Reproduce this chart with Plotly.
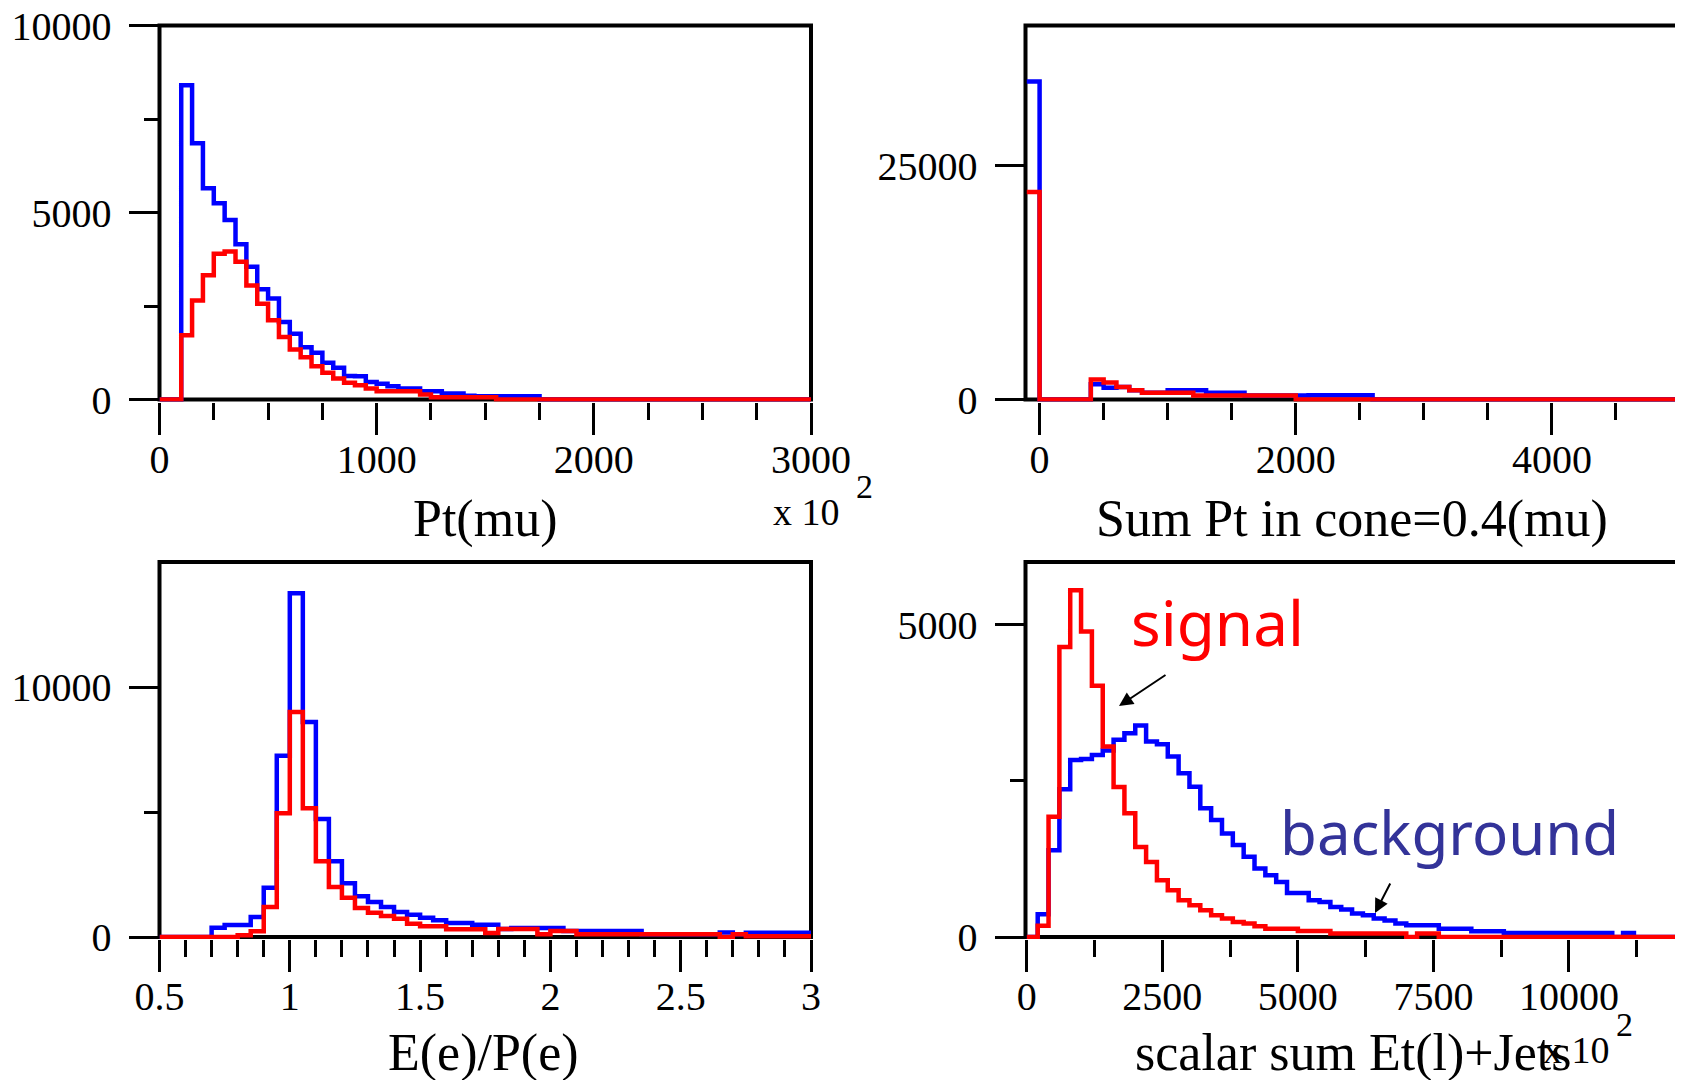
import numpy as np
import plotly.graph_objects as go

W, H = 1683, 1080
OFFSET = 8  # the page body adds an 8px margin around the figure
BLUE = '#0000ff'
RED = '#ff0000'
SERIF = 'Liberation Serif, Times New Roman, serif'
HAND = 'Comic Sans MS, Noto Sans, sans-serif'

# ---- data (bin contents, counts) ----
# Pt(mu), 50-wide bins from 0 to 3000
pt_edges = np.arange(0, 3001, 50)
pt_background = [0, 0, 8400, 6850, 5650, 5250, 4800, 4150, 3550, 2950,
                 2700, 2070, 1760, 1400, 1250, 980, 850, 630, 620, 470,
                 420, 355, 295, 295, 222, 222, 160, 160, 100, 90,
                 90, 88, 88, 88, 88] + [0] * 25
pt_signal = [0, 0, 1720, 2650, 3320, 3900, 3960, 3680, 3050, 2560,
             2120, 1670, 1340, 1130, 890, 712, 560, 445, 380, 294,
             222, 222, 222, 222, 134, 60, 60, 60, 60, 60,
             60] + [0] * 29

# Sum Pt in cone=0.4(mu), 100-wide bins from -100 to 5000
cone_edges = np.arange(-100, 5001, 100)
cone_background = [34000, 0, 0, 0, 0, 1640, 1250, 1350, 995, 710,
                   710, 1000, 1000, 1000, 710, 710, 710, 427, 427, 427,
                   427, 427, 460, 460, 460, 460, 460] + [0] * 24
cone_signal = [22200, 0, 0, 0, 0, 2140, 1820, 1350, 995, 710,
               710, 710, 710, 427, 427, 427, 427, 427, 427, 427,
               427] + [0] * 30

# E(e)/P(e), 0.05-wide bins from 0.5 to 3
ep_edges = np.linspace(0.5, 3.0, 51)
ep_background = [0, 0, 0, 0, 370, 480, 480, 800, 1970, 7250,
                 13750, 8600, 4720, 3030, 2150, 1630, 1400, 1200, 1000, 895,
                 775, 668, 560, 560, 495, 495, 320, 360, 360, 360,
                 360, 240, 240, 240, 240, 240, 240, 107, 107, 107,
                 107, 107, 107, 180, 107, 170, 170, 170, 170, 170]
ep_signal = [0, 0, 0, 0, 0, 0, 70, 235, 1200, 4950,
             9000, 5150, 3030, 2000, 1570, 1160, 975, 840, 735, 535,
             427, 427, 307, 307, 307, 160, 320, 320, 320, 107,
             240, 240, 107, 107, 107, 107, 107, 107, 107, 107,
             107, 107, 107, 0, 107, 30, 30, 30, 30, 30]

# scalar sum Et(l)+Jets, 200-wide bins from 0 to 12000
ht_edges = np.arange(0, 12001, 200)
ht_background = [0, 365, 1390, 2365, 2834, 2850, 2914, 2984, 3155, 3262,
                 3385, 3128, 3086, 2887, 2621, 2406, 2060, 1872, 1658, 1471,
                 1283, 1097, 990, 882, 706, 704, 589, 561, 481, 439,
                 375, 348, 295, 265, 215, 187, 187, 187, 134, 134,
                 134, 91, 91, 91, 64, 64, 64, 64, 64, 64,
                 64, 64, 64, 64, 0, 64, 0, 0, 0, 0]
ht_signal = [0, 180, 1925, 4640, 5550, 4890, 4020, 3050, 2400, 1980,
             1440, 1200, 910, 750, 590, 510, 430, 350, 295, 240,
             215, 172, 134, 134, 134, 96, 96, 96, 55, 55,
             55, 55, 55, 55, 55, 0, 55, 55] + [0] * 22

# ---- panel geometry (screen pixels): left, top, right, y=0 line ----
FRAMES = [
    (159.5, 25.5, 811, 399.5),
    (1025.5, 25.5, 1680, 399.5),
    (159.5, 562, 811, 937),
    (1025.5, 562, 1680, 937),
]


def px(x):
    return (x - OFFSET) / W


def py(y):
    return 1 - (y - OFFSET) / H


TICKFONT = dict(family=SERIF, size=40, color='black')

panels = [
    dict(edges=pt_edges, bkg=pt_background, sig=pt_signal,
         xrange=[0, 3000], xticks=[0, 1000, 2000, 3000],
         xminor=[250, 500, 750, 1250, 1500, 1750, 2250, 2500, 2750],
         ymax=10000, yticks=[0, 5000, 10000], yminor=[2500, 7500]),
    dict(edges=cone_edges, bkg=cone_background, sig=cone_signal,
         xrange=[-110, 5000], xticks=[0, 2000, 4000],
         xminor=[500, 1000, 1500, 2500, 3000, 3500, 4500, 5000],
         ymax=40000, yticks=[0, 25000], yminor=[]),
    dict(edges=ep_edges, bkg=ep_background, sig=ep_signal,
         xrange=[0.5, 3.0], xticks=[0.5, 1, 1.5, 2, 2.5, 3],
         xminor=[0.6, 0.7, 0.8, 0.9, 1.1, 1.2, 1.3, 1.4, 1.6, 1.7, 1.8, 1.9,
                 2.1, 2.2, 2.3, 2.4, 2.6, 2.7, 2.8, 2.9],
         ymax=15000, yticks=[0, 10000], yminor=[5000]),
    dict(edges=ht_edges, bkg=ht_background, sig=ht_signal,
         xrange=[-25, 12050], xticks=[0, 2500, 5000, 7500, 10000],
         xminor=[1250, 3750, 6250, 8750, 11250],
         ymax=6000, yticks=[0, 5000], yminor=[2500]),
]

fig = go.Figure()
layout = {}
shapes = []

for i, (p, (left, top, right, zero)) in enumerate(zip(panels, FRAMES), start=1):
    xa = 'x' if i == 1 else f'x{i}'
    ya = 'y' if i == 1 else f'y{i}'
    for vals, color in ((p['bkg'], BLUE), (p['sig'], RED)):
        fig.add_trace(go.Scatter(
            x=list(p['edges']), y=list(vals) + [vals[-1]],
            mode='lines', line=dict(shape='hv', width=4.5, color=color),
            xaxis=xa, yaxis=ya, showlegend=False, hoverinfo='skip',
        ))
    pad = p['ymax'] * 2 / (zero - top)
    layout[f'xaxis{i}'] = dict(
        domain=[px(left), px(right)], range=p['xrange'], anchor=ya,
        automargin=False, ticklabeloverflow='allow',
        showline=False, zeroline=False, showgrid=False,
        ticks='outside', ticklen=32, tickwidth=3, tickcolor='black',
        tickmode='array', tickvals=p['xticks'],
        ticktext=[f'{v:g}' for v in p['xticks']],
        tickfont=TICKFONT, ticklabelstandoff=-10,
        minor=dict(ticks='outside', ticklen=17, tickwidth=3, tickcolor='black',
                   tickmode='array', tickvals=p['xminor'], showgrid=False),
    )
    layout[f'yaxis{i}'] = dict(
        domain=[py(zero + 2), py(top)], range=[-pad, p['ymax']], anchor=xa,
        automargin=False, ticklabeloverflow='allow',
        showline=False, zeroline=False, showgrid=False,
        ticks='outside', ticklen=30, tickwidth=3, tickcolor='black',
        tickmode='array', tickvals=p['yticks'],
        ticktext=[str(v) for v in p['yticks']],
        tickfont=TICKFONT, ticklabelstandoff=9,
        minor=dict(ticks='outside', ticklen=15, tickwidth=3, tickcolor='black',
                   tickmode='array', tickvals=p['yminor'], showgrid=False),
    )
    shapes.append(dict(type='rect', xref='paper', yref='paper',
                       x0=px(left), x1=px(right), y0=py(zero), y1=py(top),
                       line=dict(color='black', width=4), layer='below'))

annotations = []


def label(text, x, y, size, color='black', family=SERIF):
    annotations.append(dict(text=text, x=px(x), y=py(y), xref='paper', yref='paper',
                            xanchor='center', yanchor='middle', showarrow=False,
                            font=dict(family=family, size=size, color=color)))


label('Pt(mu)', 485, 519, 52)
label('Sum Pt in cone=0.4(mu)', 1352, 519, 52)
label('E(e)/P(e)', 483, 1053, 52)
label('scalar sum Et(l)+Jets', 1353, 1053, 52)
label('x 10', 806, 512, 38)
label('2', 864, 486, 34)
label('x 10', 1576, 1050, 38)
label('2', 1624, 1024, 34)
label('signal', 1217, 622, 62, RED, HAND)
label('background', 1449, 832, 60, '#333399', HAND)

for tip, tail in (((1119, 706), (1167, 674)), ((1375, 913), (1391, 882))):
    annotations.append(dict(text='', x=px(tip[0]), y=py(tip[1]), xref='paper', yref='paper',
                            ax=tail[0] - tip[0], ay=tail[1] - tip[1],
                            showarrow=True, arrowhead=2, arrowsize=1.4, arrowwidth=2,
                            arrowcolor='black', standoff=0))

fig.update_layout(
    width=W, height=H,
    margin=dict(l=0, r=0, t=0, b=0),
    paper_bgcolor='white', plot_bgcolor='rgba(0,0,0,0)',
    shapes=shapes, annotations=annotations,
    **layout,
)

fig.write_html("out.html")
